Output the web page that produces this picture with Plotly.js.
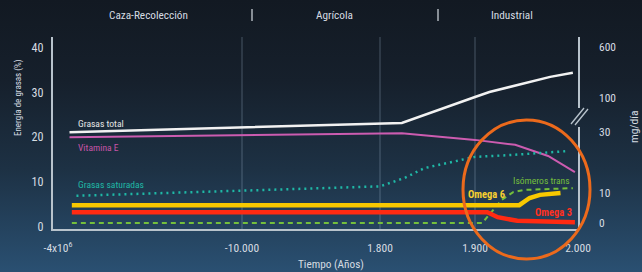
<!DOCTYPE html>
<html>
<head>
<meta charset="utf-8">
<script src="https://cdn.plot.ly/plotly-3.0.1.min.js"></script>
<style>
html,body{margin:0;padding:0;width:642px;height:272px;overflow:hidden;
background:linear-gradient(180deg,#121922 0%,#16202c 30%,#1d3144 62%,#2a5072 100%);}
#chart{width:642px;height:272px;}
</style>
</head>
<body>
<div id="chart"></div>
<script>
// ---- data ----
const eraYears = [-4000000, -10000, 1800, 1900, 2000];
const eraTickText = ['-4x10<sup>6</sup>', '-10.000', '1.800', '1.900', '2.000'];
const eraLabels = ['Caza-Recolección', 'Agrícola', 'Industrial'];
const leftTicks = [0, 10, 20, 30, 40];
const rightTickLabels = ['600', '100', '30', '10', '0'];

const totalYears = [-3750000, -10000, 1800, 1823, 1900, 1914, 1973, 1995];
const totalFat   = [21.1, 22.2, 23.0, 23.2, 29.0, 30.1, 33.5, 34.4];

const vitEYears = [-3750000, -10000, 1800, 1823, 1900, 1939, 1971, 1997];
const vitE      = [20.0, 20.5, 20.9, 20.9, 19.4, 18.3, 15.8, 12.2];

const satYears = [-3600000, -10000, 1800, 1826, 1847, 1900, 1934, 1990];
const satFat   = [6.9, 8.0, 9.0, 10.9, 13.1, 15.6, 16.0, 16.9];

const omega6Years = [-3700000, 1943, 1953, 1963, 1983];
const omega6      = [4.8, 4.8, 6.4, 7.1, 7.5];

const omega3Years = [-3700000, 1912, 1922, 1941, 1997];
const omega3      = [3.2, 3.2, 2.1, 1.3, 1.0];

const transYears = [-3700000, 1907, 1915, 1926, 1937, 1947, 1995];
const transFat   = [0.8, 0.8, 3.0, 6.0, 7.7, 8.2, 8.6];

// ---- layout helpers (positions, not data) ----
const eraPos = [5, 189, 327, 422, 525];            // axis coordinate of each era tick (broken time scale)
const rightTickPos = [40.2, 28.8, 21.2, 7.6, 0.9]; // where the mg/día labels sit on the % scale
function toAxis(yr){
  let i = 0;
  if (yr <= eraYears[0]) i = 0;
  else if (yr >= eraYears[eraYears.length-1]) i = eraYears.length-2;
  else { while (yr > eraYears[i+1]) i++; }
  const t = (yr - eraYears[i]) / (eraYears[i+1] - eraYears[i]);
  return eraPos[i] + t * (eraPos[i+1] - eraPos[i]);
}
const L = 53, R = 579, T = 37, B = 229;
function px(x){ return (x - L) / (R - L); }
function py(y){ return (B - y) / (B - T); }

// pick the narrowest installed face, then size texts to the reference widths
const ctx = document.createElement('canvas').getContext('2d');
function hasFont(name){
  const s = 'Caza-Recolección mmmWWiii 0123';
  ctx.font = '40px monospace'; const a = ctx.measureText(s).width;
  ctx.font = '40px "' + name + '", monospace'; const b = ctx.measureText(s).width;
  ctx.font = '40px serif'; const c = ctx.measureText(s).width;
  ctx.font = '40px "' + name + '", serif'; const d = ctx.measureText(s).width;
  return a !== b || c !== d;
}
const candidates = ['Roboto Condensed','DejaVu Sans Condensed','Liberation Sans Narrow','Open Sans Condensed','Noto Sans Condensed','Roboto','Liberation Sans'];
let fam = 'sans-serif';
for (const c of candidates){ if (hasFont(c)) { fam = c; break; } }
const FONT = '"' + fam + '", Roboto, sans-serif';
function fit(text, width, maxSize, bold){
  ctx.font = (bold ? 'bold ' : '') + '100px ' + FONT;
  const w = ctx.measureText(text).width / 100;
  return Math.min(maxSize, width / w);
}

const TXT = '#d6dce2';
const AX = '#b8c3cc';

function line(xs, ys, color, width, dash){
  return {x: xs.map(toAxis), y: ys, type:'scatter', mode:'lines',
    line:{color:color, width:width, dash:dash||'solid'}, hoverinfo:'skip', showlegend:false};
}
const traces = [
  line(totalYears, totalFat, '#f2f2f2', 2.5),
  line(vitEYears, vitE, '#cc5cb0', 2),
  line(satYears, satFat, '#1fb8a6', 2.5, '2px,4px'),
  line(transYears, transFat, '#74bf3c', 2, '5px,4px'),
  line(omega3Years, omega3, '#ff2a12', 4.5),
  line(omega6Years, omega6, '#f8c800', 4.5),
  {x:[0], y:[0], yaxis:'y2', type:'scatter', mode:'markers', marker:{opacity:0}, hoverinfo:'skip', showlegend:false}
];

const shapes = [];
[-10000, 1800, 1900].forEach(function(yr){
  shapes.push({type:'line', xref:'x', yref:'paper', x0:toAxis(yr), x1:toAxis(yr), y0:0, y1:1,
    line:{color:'rgba(170,192,212,0.35)', width:1}, layer:'below'});
});
[252, 438].forEach(function(x){
  shapes.push({type:'line', xref:'paper', yref:'paper', x0:px(x), x1:px(x), y0:py(21), y1:py(9),
    line:{color:TXT, width:1.2}});
});
shapes.push({type:'line', xref:'paper', yref:'paper', x0:1, x1:1, y0:py(108), y1:1, line:{color:AX, width:2}});
shapes.push({type:'line', xref:'paper', yref:'paper', x0:1, x1:1, y0:0, y1:py(127), line:{color:AX, width:2}});
shapes.push({type:'line', xref:'paper', yref:'paper', x0:px(571), x1:px(584), y0:py(124), y1:py(108), line:{color:AX, width:1.3}});
shapes.push({type:'line', xref:'paper', yref:'paper', x0:px(575), x1:px(588), y0:py(125), y1:py(109), line:{color:AX, width:1.3}});
shapes.push({type:'circle', xref:'paper', yref:'paper', x0:px(463), x1:px(590), y0:py(259), y1:py(120),
  line:{color:'#ec6a1c', width:3}, layer:'above'});

function ann(text, x, y, size, color, opts){
  return Object.assign({text:text, xref:'paper', yref:'paper', x:px(x), y:py(y), showarrow:false,
    xanchor:'center', yanchor:'middle', font:{family:FONT, size:size, color:color||TXT}}, opts||{});
}
const topSize = Math.min(fit(eraLabels[0], 79, 11.5), fit(eraLabels[2], 44, 11.5));
const serSize = Math.min(fit('Grasas saturadas', 66, 10.5), fit('Isómeros trans', 57, 10.5));
const omSize = fit('Omega 6', 37, 10.5, true);
const annotations = [
  ann(eraLabels[0], 148, 15, topSize),
  ann(eraLabels[1], 334, 15, topSize),
  ann(eraLabels[2], 512, 15, topSize),
  ann('Energía de grasas (%)', 18, 98, Math.max(9, fit('Energía de grasas (%)', 74, 11.5)), TXT, {textangle:-90}),
  ann('mg/día', 634, 127, fit('mg/día', 35, 11.5), TXT, {textangle:-90}),
  ann('Tiempo (Años)', 331, 264, fit('Tiempo (Años)', 66, 11.5)),
  ann('Grasas total', 76, 123, serSize, '#e6e6e6', {xanchor:'left'}),
  ann('Vitamina E', 76, 147, serSize, '#c654a6', {xanchor:'left'}),
  ann('Grasas saturadas', 76, 184, serSize, '#1fb8a6', {xanchor:'left'}),
  ann('Isómeros trans', 541.5, 180, serSize, '#74bf3c'),
  ann('<b>Omega 6</b>', 486.5, 194, omSize, '#f8d030'),
  ann('<b>Omega 3</b>', 553.5, 212, omSize, '#ff3020')
];

const yr = [(226.6-229)/4.47, (226.6-37)/4.47];
const xTickSize = fit('-10.000', 35, 11.5);
const layout = {
  width:642, height:272,
  margin:{l:L, r:642-R, t:T, b:272-B, pad:0},
  paper_bgcolor:'rgba(0,0,0,0)', plot_bgcolor:'rgba(0,0,0,0)',
  font:{family:FONT, color:TXT},
  showlegend:false,
  xaxis:{range:[0, R-L], tickmode:'array', tickvals:eraYears.map(toAxis), ticktext:eraTickText,
    showgrid:false, zeroline:false, showline:true, linecolor:AX, linewidth:2, ticks:'',
    tickfont:{family:FONT, size:xTickSize, color:TXT}, ticklabelstandoff:7, fixedrange:true},
  yaxis:{range:yr, tickmode:'array', tickvals:leftTicks, ticktext:leftTicks.map(String),
    showgrid:false, zeroline:false, showline:true, linecolor:AX, linewidth:2, ticks:'',
    tickfont:{family:FONT, size:fit('40', 12, 12.5), color:TXT}, ticklabelstandoff:5, fixedrange:true},
  yaxis2:{range:yr, overlaying:'y', side:'right', tickmode:'array', tickvals:rightTickPos, ticktext:rightTickLabels,
    showgrid:false, zeroline:false, showline:false, ticks:'',
    tickfont:{family:FONT, size:fit('600', 17, 11.5), color:TXT}, ticklabelstandoff:19, fixedrange:true},
  shapes:shapes,
  annotations:annotations
};
Plotly.newPlot('chart', traces, layout, {displayModeBar:false, staticPlot:true});
</script>
</body>
</html>
